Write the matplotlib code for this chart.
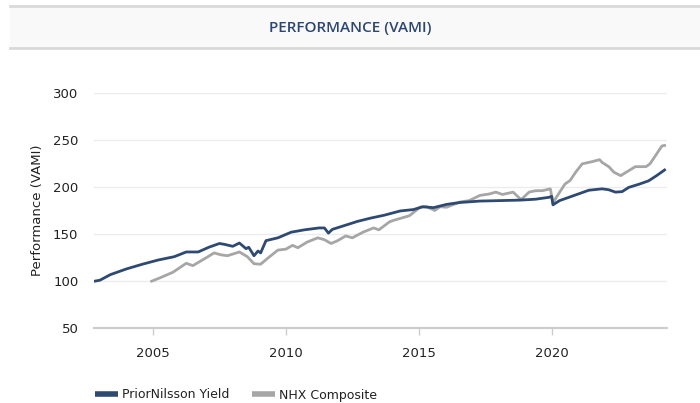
import matplotlib
matplotlib.use("Agg")
import matplotlib.pyplot as plt
from matplotlib.lines import Line2D
from matplotlib.patches import Rectangle

# Values (decimal year, VAMI)
pn_years = [2002.8, 2003.0, 2003.4, 2004.0, 2004.6, 2005.2, 2005.8, 2006.25, 2006.7,
            2007.1, 2007.5, 2007.7, 2008.0, 2008.25, 2008.5, 2008.6, 2008.8, 2008.95,
            2009.05, 2009.25, 2009.7, 2010.2, 2010.7, 2011.25, 2011.45, 2011.6, 2011.75,
            2012.2, 2012.7, 2013.2, 2013.7, 2014.3, 2014.8, 2015.15, 2015.55, 2016.05,
            2016.55, 2017.3, 2018.05, 2018.8, 2019.4, 2019.9, 2020.0, 2020.05, 2020.3,
            2020.8, 2021.4, 2021.9, 2022.15, 2022.4, 2022.65, 2022.9, 2023.3, 2023.65,
            2023.95, 2024.25]
pn_values = [100, 101, 107, 113, 118, 122.5, 126, 131, 131,
             136, 140, 139, 137, 140.5, 134.5, 136, 127, 132,
             130, 143, 146, 152, 154.5, 156.5, 156.5, 151, 155,
             159, 163.5, 167, 170, 174.5, 176, 179, 178, 181.5,
             183.5, 185, 185.5, 186, 187, 189, 190, 181, 185.5,
             190.5, 196.5, 198, 197, 194.5, 195, 199.5, 203, 206.5,
             212, 218]

nhx_years = [2004.95, 2005.3, 2005.75, 2006.25, 2006.5, 2006.95, 2007.3, 2007.55, 2007.8,
             2008.25, 2008.55, 2008.8, 2009.05, 2009.3, 2009.7, 2010.0, 2010.25, 2010.45,
             2010.8, 2011.2, 2011.45, 2011.7, 2011.95, 2012.25, 2012.5, 2012.9, 2013.3,
             2013.5, 2013.9, 2014.05, 2014.65, 2015.05, 2015.3, 2015.6, 2015.8, 2016.05,
             2016.55, 2016.9, 2017.3, 2017.65, 2017.9, 2018.15, 2018.55, 2018.85, 2019.15,
             2019.4, 2019.65, 2019.95, 2020.05, 2020.2, 2020.5, 2020.7, 2020.9, 2021.15,
             2021.55, 2021.8, 2021.9, 2022.15, 2022.35, 2022.6, 2022.8, 2023.15, 2023.55,
             2023.7, 2023.95, 2024.15, 2024.25]
nhx_values = [100, 104, 109.5, 119, 116.5, 124, 130, 128, 127,
              131, 126, 118.5, 118, 124, 133, 134, 138, 135.5,
              141.5, 146, 144, 140, 143, 148, 146, 152, 156.5,
              154.5, 163, 164.5, 169.5, 178.5, 179, 175, 179, 178.5,
              184, 185.5, 191, 192.5, 194.5, 192, 194.5, 186.5, 194.5,
              196, 196, 198, 183, 190, 203, 207, 215.5, 224.5,
              227, 229, 226, 221.5, 215.5, 212, 215.5, 221.5, 221.5,
              224.5, 235, 243.5, 244]

year_ticks = [2005, 2010, 2015, 2020]
value_ticks = [50, 100, 150, 200, 250, 300]
series_names = ["PriorNilsson Yield", "NHX Composite"]

navy = "#2e4a72"
grey = "#a6a6a6"
title_col = "#2c4670"
txt = "#222222"

fig = plt.figure(figsize=(7, 4.03), dpi=100)

# title bar
fig.patches.append(Rectangle((10/700, 1-48/403), 690/700, 43/403, transform=fig.transFigure,
                             facecolor="#f9f9f9", edgecolor="none", zorder=0))
for yy in [5.5, 47.5]:
    fig.add_artist(Line2D([10/700, 1], [1-yy/403, 1-yy/403], transform=fig.transFigure,
                          color="#d9d9d9", lw=2))
fig.text(0.5, 1-28/403, "PERFORMANCE (VAMI)", ha="center", va="center",
         fontsize=11, fontweight="semibold", family="Open Sans", color=title_col)

ax = fig.add_axes([94.3/700, 1-328.3/403, (666.7-94.3)/700, (328.3-92.7)/403])
ax.plot(nhx_years, nhx_values, color=grey, lw=2, zorder=3)
ax.plot(pn_years, pn_values, color=navy, lw=2, zorder=4)

ax.set_xlim(2002.79, 2024.33)
ax.set_ylim(50, 300)
ax.set_xticks(year_ticks)
ax.set_yticks(value_ticks)
ax.grid(axis="y", color="#ececec", lw=1)
ax.set_axisbelow(True)
for s in ["top", "right", "left"]:
    ax.spines[s].set_visible(False)
ax.spines["bottom"].set_color("#cccccc")
ax.spines["bottom"].set_linewidth(1.5)
ax.tick_params(axis="x", length=5, color="#cccccc", width=1, pad=8.5, labelsize=9.5, labelcolor=txt)
ax.tick_params(axis="y", length=0, pad=11.5, labelsize=9.5, labelcolor=txt)
ax.set_ylabel("Performance (VAMI)", fontsize=9.5, color=txt, labelpad=6.5)

handles = [Line2D([], [], color=navy, lw=4, solid_capstyle="butt"),
           Line2D([], [], color=grey, lw=4, solid_capstyle="butt")]
fig.legend(handles, series_names, loc="center left", bbox_to_anchor=(84/700, 1-395/403),
           frameon=False, fontsize=9, ncol=2, handlelength=1.8, handletextpad=0.35,
           columnspacing=1.8, labelcolor=txt)

fig.savefig("out.png", dpi=100)
